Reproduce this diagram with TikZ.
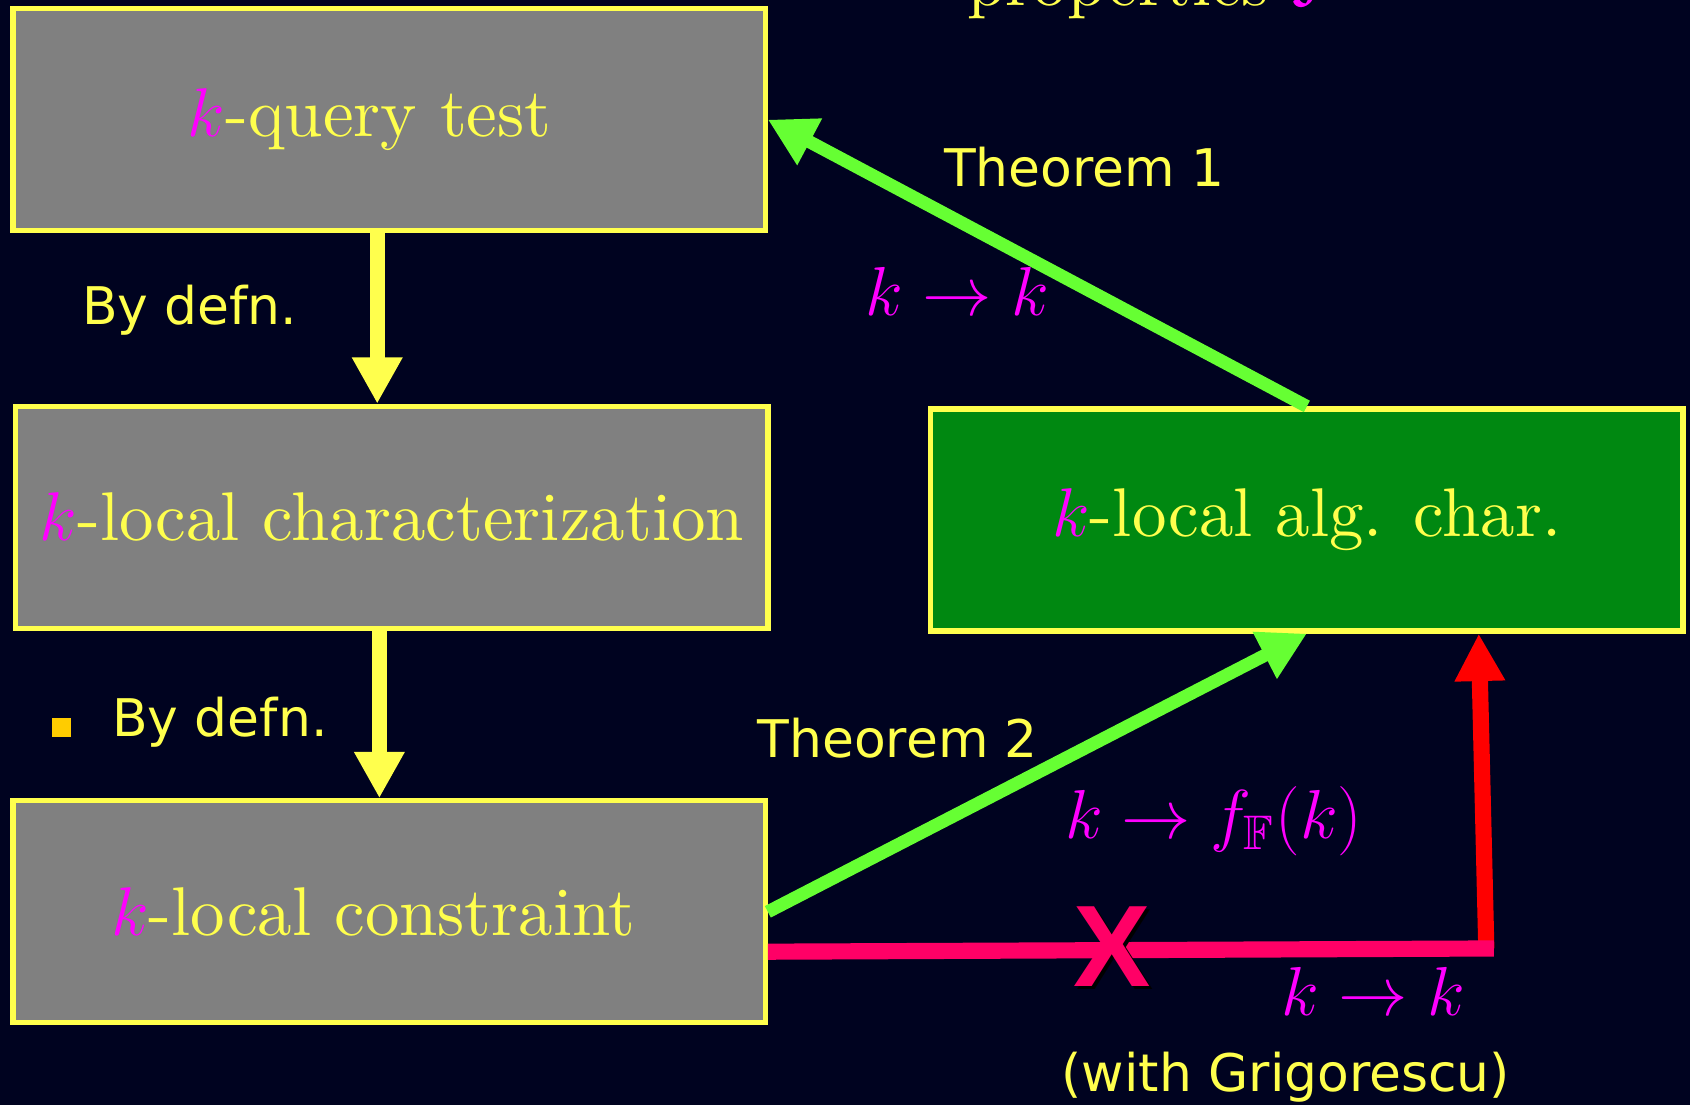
\RequirePackage{fix-cm}
\documentclass[tikz,border=0pt]{standalone}
\usepackage{fontspec}
\usepackage{amssymb}
\usetikzlibrary{arrows.meta,calc}
\newfontfamily\lmten{lmroman10-regular}[Extension=.otf]
\newfontfamily\vsans{DejaVu Sans}
\newfontfamily\xsans{Liberation Sans}
\definecolor{bg}{RGB}{0,3,32}
\definecolor{ylw}{RGB}{255,255,77}
\definecolor{mag}{RGB}{255,0,255}
\definecolor{grn}{RGB}{102,255,51}
\definecolor{boxgreen}{RGB}{0,136,17}
\definecolor{boxgray}{RGB}{128,128,128}
\definecolor{pnk}{RGB}{255,0,102}
\definecolor{rd}{RGB}{255,0,0}
\definecolor{bul}{RGB}{255,204,0}
\newcommand\kk{\textcolor{mag}{$k$}}
\tikzset{
  box/.style={draw=ylw, line width=0.048cm, fill=boxgray, minimum width=6.98cm,
    minimum height=2.06cm, inner sep=0pt, text=ylw, font=\lmten\fontsize{18.2}{22}\selectfont},
  sanslab/.style={text=ylw, font=\vsans\fontsize{13.7}{16}\selectfont, inner sep=0pt},
  mathlab/.style={text=mag, font=\lmten\fontsize{18.3}{22}\selectfont, inner sep=0pt},
  yarrow/.style={draw=ylw, line width=0.14cm, -{Triangle[length=0.43cm,width=0.44cm]}},
  garrow/.style={draw=grn, line width=0.12cm, -{Triangle[length=0.44cm,width=0.46cm]}},
  rarrow/.style={draw=rd, line width=0.15cm, -{Triangle[length=0.44cm,width=0.44cm]}},
  pline/.style={draw=pnk, line width=0.15cm},
}
\begin{document}
\begin{tikzpicture}
\useasboundingbox (0,0) rectangle (15.68,10.25);
\fill[bg] (0,0) rectangle (15.68,10.25);

% boxes
\node[box] (box1) at (3.61,9.14) {\kk-query test\hspace*{0.36cm}};
\node[box] (box2) at (3.635,5.45) {\kk-local characterization};
\node[box] (box3) at (3.61,1.79) {\kk-local constraint\hspace*{0.29cm}};
\node[box, fill=boxgreen] (box4) at (12.125,5.425) {\kk-local alg. char.};

% top cut-off title
\node[anchor=base west, inner sep=0pt, text=ylw, font=\lmten\fontsize{18.2}{22}\selectfont]
  (props) at (8.97,10.20) {properties \textcolor{mag}{$\mathcal{F}$}};

% yellow arrows
\path ([xshift=-0.11cm]box1.south) coordinate (a1);
\draw[yarrow] (a1) -- (a1 |- box2.north);
\path ([xshift=-0.115cm]box2.south) coordinate (a2);
\draw[yarrow] (a2) -- (a2 |- box3.north);

% green arrows
\draw[garrow] (box4.north) -- (box1.east);
\draw[garrow] (box3.east) -- (box4.south);

% red / pink
\coordinate (corner) at (13.86,1.45);
\coordinate (redstart) at (13.79,1.45);
\draw[rarrow] (redstart) -- ([xshift=1.595cm]box4.south);
\draw[pline] ([yshift=-0.37cm]box3.east) -- (corner);
\node[text=black, font=\xsans\bfseries\fontsize{30.6}{34}\selectfont, inner sep=0pt] (xshadow) at (10.35,1.44) {X};
\node[text=pnk, font=\xsans\bfseries\fontsize{30.6}{34}\selectfont, inner sep=0pt] (xmark) at (10.32,1.47) {X};

% labels
\node[sanslab] (def1) at (1.76,7.37) {By defn.};
\node[fill=bul, minimum size=0.18cm, inner sep=0pt] (bullet) at (0.57,3.50) {};
\node[sanslab] (def2) at (2.04,3.55) {By defn.};
\node[sanslab] (thm1) at (10.06,8.70) {Theorem 1};
\node[mathlab] (kk1) at (8.88,7.55) {$k\rightarrow k$};
\node[sanslab] (thm2) at (8.33,3.40) {Theorem 2};
\node[mathlab] (kf) at (11.26,2.63) {$k\rightarrow f_{\mathbb{F}}(k)$};
\node[mathlab] (kk2) at (12.74,1.05) {$k\rightarrow k$};
\node[sanslab] (grig) at (11.93,0.26) {(with Grigorescu)};
\end{tikzpicture}
\end{document}
